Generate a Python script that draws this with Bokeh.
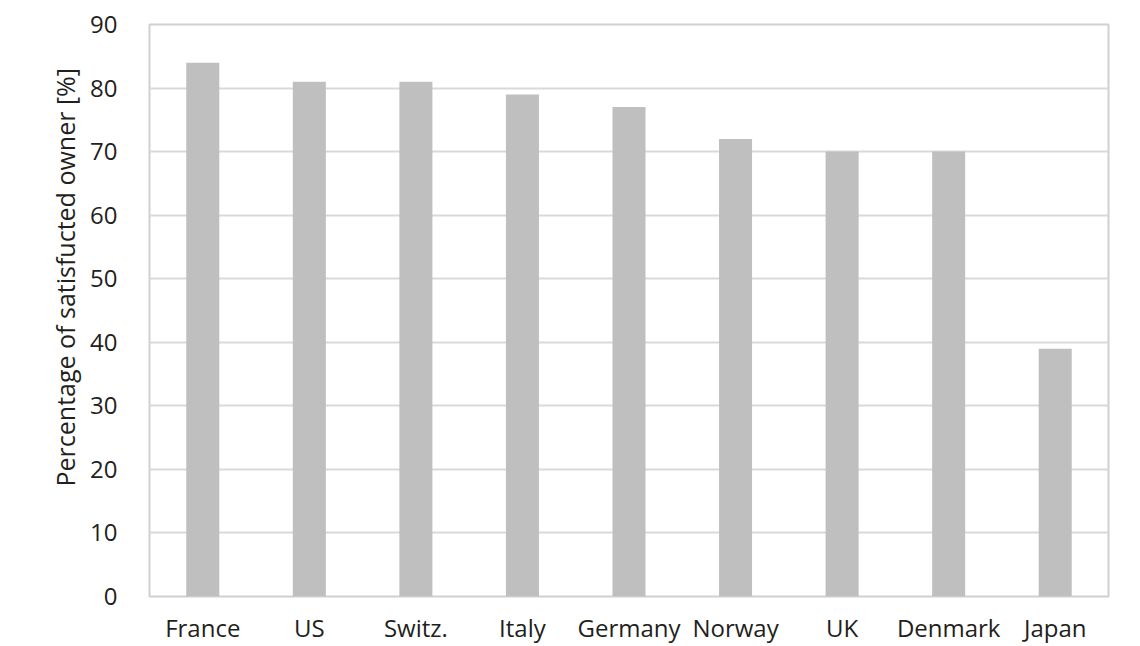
from bokeh.plotting import figure
from bokeh.models import ColumnDataSource, FixedTicker, Range1d, Title
from bokeh.embed import file_html
from bokeh.resources import INLINE

# Share of satisfied owners by country
countries = ["France", "US", "Switz.", "Italy", "Germany", "Norway", "UK", "Denmark", "Japan"]
satisfied_pct = [84, 81, 81, 79, 77, 72, 70, 70, 39]
y_ticks = [0, 10, 20, 30, 40, 50, 60, 70, 80, 90]

FONT = "Open Sans"
TEXT_COLOR = "#231f20"
FONT_SIZE = "24px"

source = ColumnDataSource(data=dict(country=countries, pct=satisfied_pct))

p = figure(
    x_range=countries,
    y_range=Range1d(0, 90),
    width=1140,
    height=646,
    output_backend="svg",
    toolbar_location=None,
    min_border_left=149,
    min_border_right=32,
    min_border_top=24,
    min_border_bottom=49,
)
p.x_range.range_padding = 0

p.vbar(x="country", top="pct", width=0.31, source=source,
       fill_color="#bfbfbf", line_color=None)

# frame and grid
p.outline_line_color = "#d0d0d0"
p.outline_line_width = 2
p.xgrid.grid_line_color = None
p.ygrid.grid_line_color = "#d9d9d9"
p.ygrid.grid_line_width = 2

# y axis
p.yaxis.ticker = FixedTicker(ticks=y_ticks)
p.yaxis.axis_line_color = None
p.yaxis.major_tick_line_color = None
p.yaxis.minor_tick_line_color = None
p.yaxis.major_label_standoff = 26
p.yaxis.major_label_text_font = FONT
p.yaxis.major_label_text_font_size = FONT_SIZE
p.yaxis.major_label_text_color = TEXT_COLOR

# x axis
p.xaxis.axis_line_color = None
p.xaxis.major_tick_line_color = None
p.xaxis.major_label_standoff = 8
p.xaxis.major_label_text_font = FONT
p.xaxis.major_label_text_font_size = FONT_SIZE
p.xaxis.major_label_text_color = TEXT_COLOR

# vertical axis title, starting a little above the frame bottom
ytitle = Title(
    text="Percentage of satisfucted owner [%]",
    align="left",
    offset=110,
    text_font=FONT,
    text_font_size="25px",
    text_font_style="normal",
    text_color=TEXT_COLOR,
    standoff=12,
)
p.add_layout(ytitle, "left")

p.background_fill_color = "white"
p.border_fill_color = "white"

open("out.html", "w").write(file_html(p, INLINE))
